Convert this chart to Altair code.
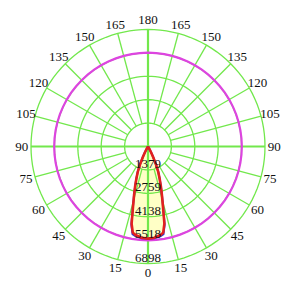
import altair as alt
import pandas as pd

# ---- data ----
RINGS = [1379, 2759, 4138, 5518, 6898]
ANGLE_LABELS = [0, 15, 30, 45, 60, 75, 90, 105, 120, 135, 150, 165, 180]

RED_ANG = [0, 4, 8, 10, 12, 14, 16, 18, 20, 22, 24, 26, 28, 30, 32]
RED_VAL = [5430, 5390, 5270, 5160, 4650, 3650, 2980, 2450, 2000, 1620, 1150, 700, 380, 130, 0]

BLUE_ANG = [0, 4, 8, 10, 12, 14, 16, 18, 20, 22, 24, 26, 28, 30, 32]
BLUE_VAL = [5440, 5420, 5340, 5250, 4720, 3680, 2990, 2450, 2000, 1620, 1150, 700, 380, 130, 0]

MAG_ANG = [0, 5, 10, 15, 20, 25, 30, 35, 40, 45, 50, 55, 60, 65, 70, 75, 80, 85, 90,
           95, 100, 105, 110, 115, 120, 125, 130, 135, 140, 145, 150, 155, 160, 165,
           170, 175, 180]
MAG_VAL = [5530] * len(MAG_ANG)

# ---- layout constants ----
W, H = 297, 286
CX, CY = 148, 146.5
R_PX = 117.0
K = RINGS[-1] / R_PX  # candela per pixel
LABEL_R = 126.3 * K

xs = alt.Scale(domain=[-CX * K, (W - CX) * K], nice=False, zero=False)
ys = alt.Scale(domain=[-(H - CY) * K, CY * K], nice=False, zero=False)
X = alt.X("x:Q", scale=xs, axis=None)
Y = alt.Y("y:Q", scale=ys, axis=None)

def polar(df):
    return df

def mirrored(ang, val, name):
    rows = []
    seq = [(-a, v) for a, v in zip(reversed(ang), reversed(val))] + \
          [(a, v) for a, v in zip(ang[1:], val[1:])]
    for i, (a, v) in enumerate(seq):
        rows.append({"s": name, "i": i, "ang": a, "r": v})
    return pd.DataFrame(rows)

CALC = dict(
    x="datum.r * sin(datum.ang * PI / 180)",
    y="-datum.r * cos(datum.ang * PI / 180)",
)

red_df = mirrored(RED_ANG, RED_VAL, "red")
blue_df = mirrored(BLUE_ANG, BLUE_VAL, "blue")
mag_df = mirrored(MAG_ANG, MAG_VAL, "mag")

# grid rings
ring_rows = []
for rv in RINGS:
    for j, a in enumerate(range(0, 361, 3)):
        ring_rows.append({"ring": rv, "i": j, "ang": a, "r": rv})
ring_df = pd.DataFrame(ring_rows)

# spokes
spoke_rows = []
for a in range(0, 360, 15):
    main = a % 90 == 0
    spoke_rows.append({"ang": a, "r0": 0 if main else RINGS[0], "r1": RINGS[-1], "main": main})
spoke_df = pd.DataFrame(spoke_rows)

# angle labels (both sides)
lab_rows = []
for a in ANGLE_LABELS:
    lab_rows.append({"ang": a, "r": LABEL_R, "t": str(a)})
    if 0 < a < 180:
        lab_rows.append({"ang": -a, "r": LABEL_R, "t": str(a)})
lab_df = pd.DataFrame(lab_rows)

ringlab_df = pd.DataFrame({"ang": [0] * len(RINGS), "r": RINGS, "t": [str(v) for v in RINGS]})

GREEN = "#72E84C"

fill = alt.Chart(red_df).mark_line(filled=True, color="#FFFFC6").encode(
    x=X, y=Y, order=alt.Order("i:Q")
).transform_calculate(**CALC)

rings = alt.Chart(ring_df).mark_line(color=GREEN, strokeWidth=1.3).encode(
    x=X, y=Y, detail="ring:N", order=alt.Order("i:Q")
).transform_calculate(**CALC)

spokes = alt.Chart(spoke_df).mark_rule(color=GREEN).encode(
    x=X, y=Y, x2="x2:Q", y2="y2:Q",
    strokeWidth=alt.condition("datum.main", alt.value(2.2), alt.value(1.3)),
).transform_calculate(
    x="datum.r0 * sin(datum.ang * PI / 180)",
    y="-datum.r0 * cos(datum.ang * PI / 180)",
    x2="datum.r1 * sin(datum.ang * PI / 180)",
    y2="-datum.r1 * cos(datum.ang * PI / 180)",
)

mag = alt.Chart(mag_df).mark_line(color="#DD44E0", strokeWidth=2.2).encode(
    x=X, y=Y, order=alt.Order("i:Q")
).transform_calculate(**CALC)

blue = alt.Chart(blue_df).mark_line(color="#2233DD", strokeWidth=2).encode(
    x=X, y=Y, order=alt.Order("i:Q")
).transform_calculate(**CALC)

red = alt.Chart(red_df).mark_line(color="#E3201E", strokeWidth=2.6).encode(
    x=X, y=Y, order=alt.Order("i:Q")
).transform_calculate(**CALC)

labels = alt.Chart(lab_df).mark_text(
    font="Liberation Serif", fontSize=13, color="#111111", align="center", baseline="middle"
).encode(x=X, y=Y, text="t:N").transform_calculate(**CALC)

ringlabels = alt.Chart(ringlab_df).mark_text(
    font="Liberation Serif", fontSize=13, color="#111111", align="center", baseline="bottom", dy=1
).encode(x=X, y=Y, text="t:N").transform_calculate(**CALC)

chart = alt.layer(fill, rings, spokes, mag, blue, red, labels, ringlabels).properties(
    width=W, height=H, padding=0, autosize=alt.AutoSizeParams(type="none"),
    background="white",
).configure_view(stroke=None)

chart.save("out.html", embed_options={"renderer": "svg", "actions": False})
